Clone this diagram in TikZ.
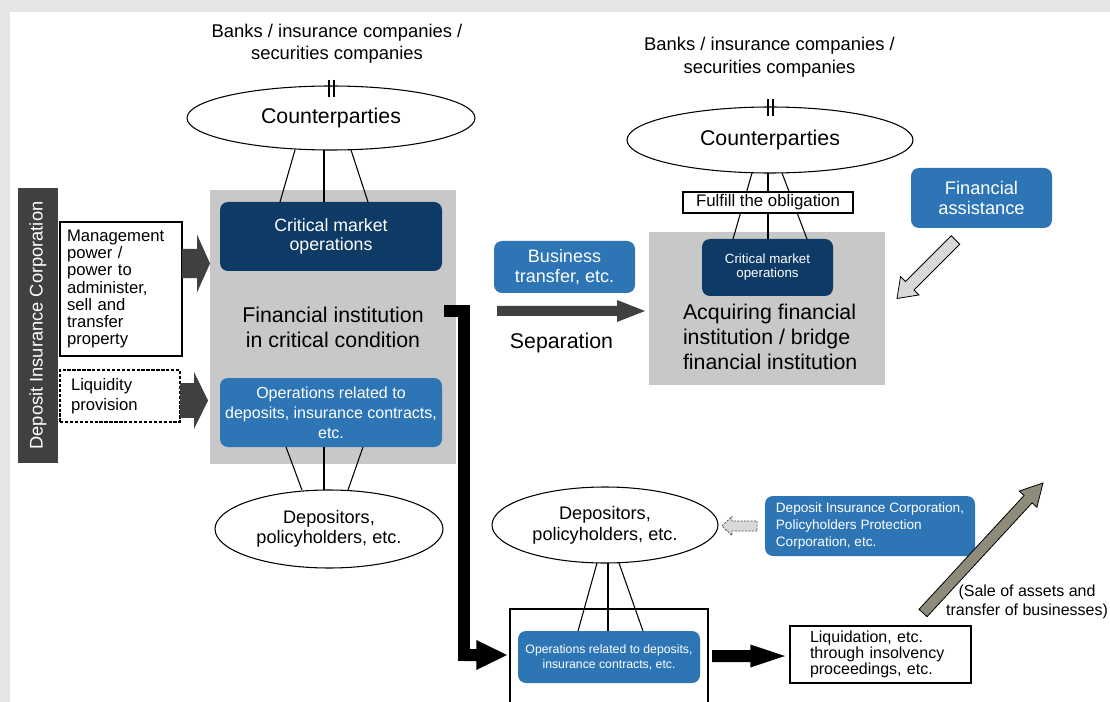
\documentclass[tikz,border=0pt]{standalone}
\usepackage{fontspec}
\setmainfont{Liberation Sans}
\usetikzlibrary{shapes.geometric}
\usetikzlibrary{calc}

\definecolor{navy}{RGB}{14,58,102}
\definecolor{midblue}{RGB}{46,117,182}
\definecolor{boxgray}{RGB}{200,200,200}
\definecolor{dicgray}{RGB}{64,64,64}
\definecolor{paper}{RGB}{230,230,230}
\definecolor{arrowgray}{RGB}{217,217,217}
\definecolor{olivegray}{RGB}{142,139,123}

\begin{document}
\begin{tikzpicture}[x=0.75pt,y=-0.75pt,
	every node/.style={inner sep=0pt,outer sep=0pt,align=center},
	oval/.style={draw,ellipse,line width=0.8pt,fill=white},
	graybox/.style={fill=boxgray},
	navybox/.style={fill=navy,rounded corners=6pt,text=white},
	bluebox/.style={fill=midblue,rounded corners=6pt,text=white},
	plainbox/.style={draw,fill=white,line width=1.5pt},
	darkblk/.style={fill=dicgray},
	blackblk/.style={fill=black},
	lightblk/.style={fill=arrowgray,draw=black,line width=0.6pt},
	dashblk/.style={fill=arrowgray,draw=black!70,line width=0.6pt,dash pattern=on 1.5pt off 1pt},
	oliveblk/.style={fill=olivegray,draw=black,line width=0.6pt}]
\def\fs#1#2{\fontsize{#1}{#2}\selectfont}
\def\fatarrow#1#2#3#4#5#6{%
	\coordinate (fah) at ($(#3)!#6!(#2)$);
	\path[#1] ($(#2)!#4!90:(#3)$) -- ($(fah)!#4!90:(#3)$) -- ($(fah)!#5!90:(#3)$) -- (#3)
		-- ($(fah)!#5!-90:(#3)$) -- ($(fah)!#4!-90:(#3)$) -- ($(#2)!#4!-90:(#3)$) -- cycle;}

\useasboundingbox (0,0) rectangle (1110,702);
\fill[paper] (0,0) rectangle (1110,702);
\fill[white] (10,12) rectangle (1110,702);

%left side
\node[fill=dicgray,text=white,rotate=90,minimum width=206.25pt,minimum height=30pt,font=\fs{13.7}{16}] (dic) at (38,325.5) {Deposit Insurance Corporation};
\node[draw,line width=1.8pt,minimum width=91.5pt,minimum height=100.5pt,text width=81pt,align=left,font=\fs{12.5}{12.9}] (mgmt) at (121,289) {Management\\power /\\power to\\administer,\\sell and\\transfer\\property};
\node[draw,line width=1.2pt,dash pattern=on 2.5pt off 1.2pt,minimum width=90pt,minimum height=39pt,text width=73.5pt,align=left,font=\fs{12.5}{15}] (liq) at (120,396) {Liquidity\\provision};

\node[font=\fs{13.8}{16.5}] (bankL) at (337,44) {Banks / insurance companies /\\securities companies};
\node[graybox,minimum width=184.5pt,minimum height=205.5pt,font=\fs{16}{18.75}] (fiL) at (333,327) {Financial institution\\in critical condition};
\node[navybox,minimum width=166.5pt,minimum height=51.75pt,font=\fs{13.3}{14.5}] (cmoL) at (331,236.5) {Critical market\\operations};
\node[bluebox,minimum width=166.5pt,minimum height=51.75pt,font=\fs{12}{15}] (opL) at (331,412.5) {Operations related to\\deposits, insurance contracts,\\etc.};
\node[oval,minimum width=216pt,minimum height=48pt,font=\fs{16}{18}] (cpL) at (331,118) {Counterparties};
\node[oval,minimum width=171pt,minimum height=58.5pt,font=\fs{13.6}{15}] (depL) at (329,529) {Depositors,\\policyholders, etc.};

\foreach \a/\b in {-36/-51,-7/-7,20/37}
	\draw[line width=0.8pt] ($(cpL.south)+(\a,0)$) -- ($(cmoL.north)+(\b,0)$);
\foreach \a/\b in {-45/-27,-7/-5,32/19}
	\draw[line width=0.8pt] ($(opL.south)+(\a,0)$) -- ($(depL.north)+(\b,0)$);
\foreach \t in {-2,3}
	\draw[line width=1.2pt] ($(cpL.north)+(\t,-6)$) -- ++(0,17);

%right side
\node[font=\fs{13.8}{17}] (bankR) at (769.5,57.5) {Banks / insurance companies /\\securities companies};
\node[graybox,minimum width=177pt,minimum height=114.75pt] (fiR) at (767,308.5) {};
\node[navybox,minimum width=98.25pt,minimum height=42.75pt,font=\fs{10}{10.5}] (cmoR) at (767.5,267.5) {Critical market\\operations};
\node[anchor=west,align=left,font=\fs{16}{18.75}] (acqT) at (683,337) {Acquiring financial\\institution / bridge\\financial institution};
\node[oval,minimum width=214.5pt,minimum height=49.5pt,font=\fs{16}{18}] (cpR) at (770,140) {Counterparties};

\foreach \a/\b in {-18/-34.5,-2/0.5,12/39.5}
	\draw[line width=0.8pt] ($(cpR.south)+(\a,0)$) -- ($(cmoR.north)+(\b,0)$);
\foreach \t in {-2,3}
	\draw[line width=1.2pt] ($(cpR.north)+(\t,-8)$) -- ++(0,17);
\node[draw,fill=white,line width=1pt,minimum width=127.5pt,minimum height=15.75pt,font=\fs{12.6}{14}] (ful) at (768,202.5) {Fulfill the obligation};

\node[bluebox,minimum width=105.75pt,minimum height=39pt,font=\fs{13.5}{15}] (bt) at (564.5,267) {Business\\transfer, etc.};
\node[font=\fs{16}{18}] (sepT) at (561.5,343) {Separation};
\node[bluebox,minimum width=105.75pt,minimum height=45pt,font=\fs{13.7}{15}] (fa) at (981.5,198) {Financial\\assistance};

%bottom
\node[oval,minimum width=169.5pt,minimum height=57pt,font=\fs{13.6}{16}] (depR) at (605,525) {Depositors,\\policyholders, etc.};
\node[bluebox,minimum width=157.5pt,minimum height=45pt,align=left,font=\fs{10.2}{12.75}] (dicB) at (870,526) {Deposit Insurance Corporation,\\Policyholders Protection\\Corporation, etc.};
\node[plainbox,minimum width=148.5pt,minimum height=73.5pt] (outer) at (609,658) {};
\node[bluebox,minimum width=136.5pt,minimum height=39pt,font=\fs{9.2}{11.25}] (opB) at (609,657) {Operations related to deposits,\\insurance contracts, etc.};
\foreach \a/\b in {-8/-31,3/-1,14/34}
	\draw[line width=0.8pt] ($(depR.south)+(\a,0)$) -- ($(opB.north)+(\b,0)$);
\node[plainbox,minimum width=135.75pt,minimum height=42.75pt,text width=105.75pt,align=left,font=\fs{12}{12}] (liq2) at (880.5,654.5) {Liquidation, etc.\\through insolvency\\proceedings, etc.};
\node[font=\fs{12}{14.25}] (saleT) at (1027,602) {(Sale of assets and\\transfer of businesses)};

%block arrows
\coordinate (mgA) at ($(mgmt.east)+(0,-25.5)$);
\coordinate (mgB) at (mgA -| fiL.west);
\fatarrow{darkblk}{mgA}{mgB}{10.9pt}{21.75pt}{9.75pt}
\coordinate (lqA) at ($(liq.east)+(0,4.5)$);
\coordinate (lqB) at ($(lqA -| fiL.west)+(-2,0)$);
\fatarrow{darkblk}{lqA}{lqB}{13.1pt}{21.4pt}{10.5pt}
\coordinate (spA) at ($(bt.south west)+(3,18)$);
\coordinate (spB) at ($(spA -| fiR.west)+(-4,0)$);
\fatarrow{darkblk}{spA}{spB}{3.75pt}{8.25pt}{21pt}
\coordinate (faA) at ($(fa.south)+(-26,12)$);
\coordinate (faB) at ($(fiR.east)+(12,-10)$);
\fatarrow{lightblk}{faA}{faB}{4.5pt}{9.75pt}{13.5pt}
\coordinate (dsA) at ($(dicB.west)+(-8,0)$);
\coordinate (dsB) at ($(depR.east)+(4,1)$);
\fatarrow{dashblk}{dsA}{dsB}{3.75pt}{7.1pt}{7.5pt}
\coordinate (lqdA) at ($(outer.east)+(4,-2)$);
\coordinate (lqdB) at ($(lqdA -| liq2.west)+(-5,0)$);
\fatarrow{blackblk}{lqdA}{lqdB}{4.5pt}{8.6pt}{26pt}
\coordinate (slA) at ($(liq2.north east)+(-48,-13)$);
\coordinate (slB) at (1043,483);
\fatarrow{oliveblk}{slA}{slB}{4.1pt}{9pt}{16.5pt}

%separation path
\coordinate (Lst) at ($(fiL.east)+(-6,-16)$);
\coordinate (Lturn) at ($(Lst)+(14,344)$);
\coordinate (Ltip) at ($(outer.west |- Lturn)+(-3,0)$);
\draw[line width=9pt,line cap=rect] (Lst) -| (Lturn);
\fatarrow{blackblk}{Lturn}{Ltip}{4.5pt}{11.25pt}{23pt}

\end{tikzpicture}
\end{document}
